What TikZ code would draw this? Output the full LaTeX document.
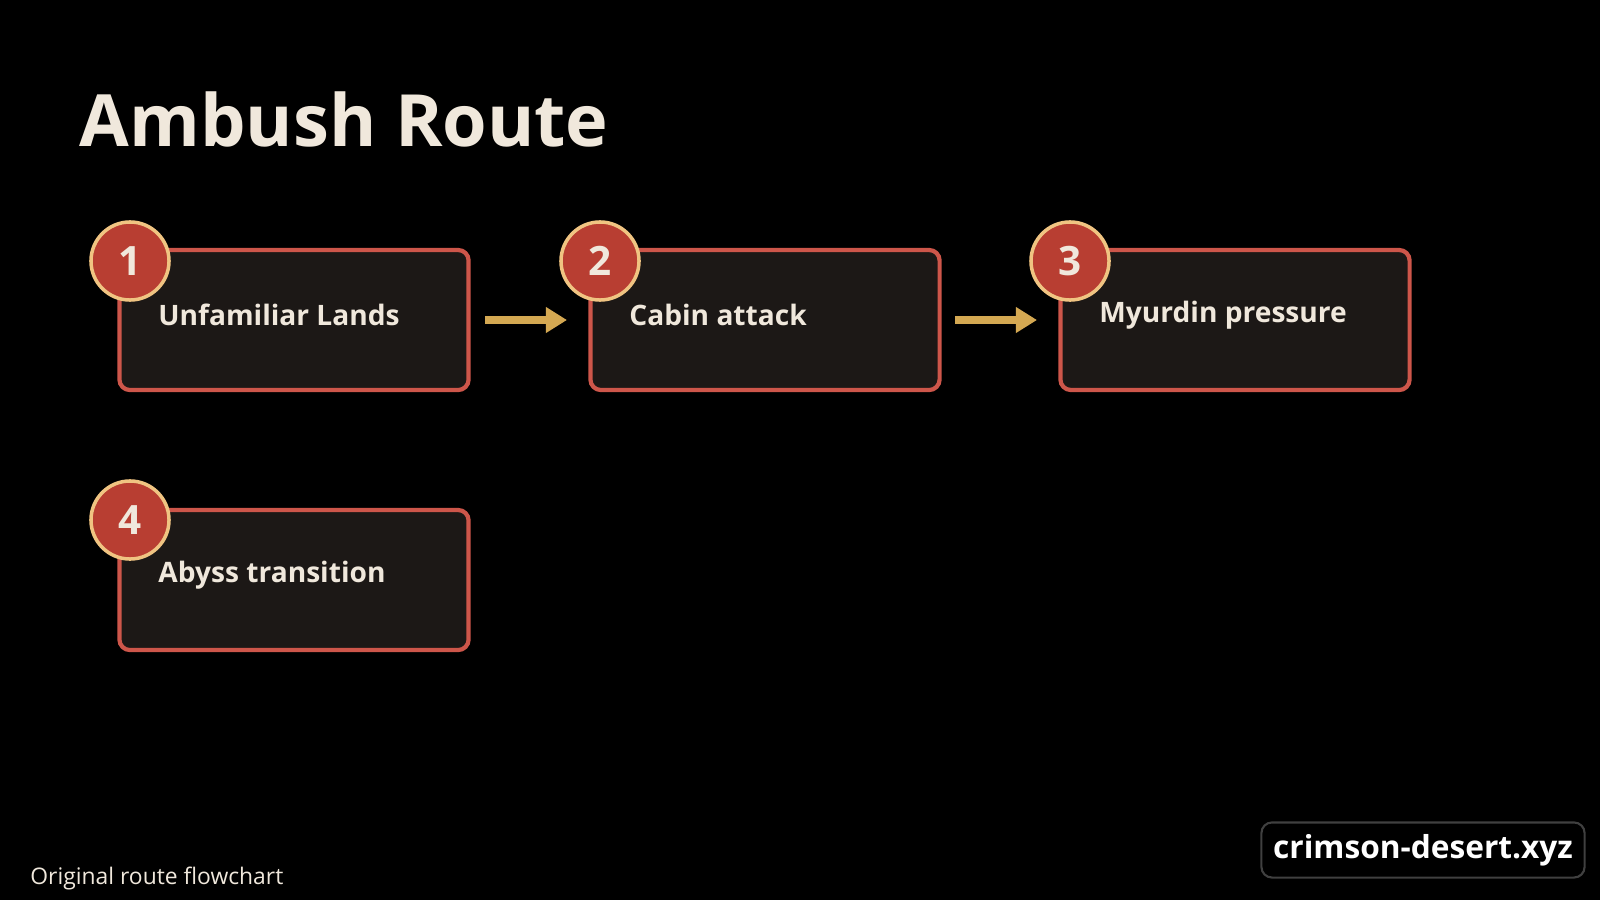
\documentclass[tikz,border=0pt]{standalone}
\usepackage{fontspec}
\setmainfont{Open Sans}
\usetikzlibrary{positioning, calc, arrows.meta}
\definecolor{boxfill}{RGB}{28,24,22}
\definecolor{boxline}{RGB}{205,86,74}
\definecolor{badge}{RGB}{184,62,50}
\definecolor{badgeline}{RGB}{240,196,130}
\definecolor{arrowc}{RGB}{212,168,82}
\definecolor{textc}{RGB}{240,232,220}

\begin{document}
\begin{tikzpicture}[x=0.01cm, y=-0.01cm,
    routebox/.style={rectangle, rounded corners=3pt, draw=boxline, line width=1.2pt, fill=boxfill, minimum width=3.49cm, minimum height=1.40cm},
    routelabel/.style={text=textc, font=\fontsize{8}{10}\selectfont\bfseries, anchor=west},
    num/.style={circle, draw=badgeline, line width=1pt, fill=badge, minimum size=0.78cm, inner sep=0pt, text=textc, font=\fontsize{11.5}{12}\selectfont\bfseries},
    flow/.style={arrowc, line width=2pt, -{Triangle[length=6pt, width=7pt]}}
]
\fill[black] (0,0) rectangle (1600,900);
\useasboundingbox (0,0) rectangle (1600,900);

% title
\node[anchor=west, text=textc, font=\fontsize{20.5}{24}\selectfont\bfseries, inner sep=0pt] (title) at (79,119) {Ambush Route};

% steps
\node[routebox] (s1) at (294,320) {};
\node[routebox] (s2) at (765,320) {};
\node[routebox] (s3) at (1235,320) {};
\node[routebox] (s4) at (294,580) {};

\node[routelabel] (t1) at (146,315) {Unfamiliar Lands};
\node[routelabel] (t2) at (617,315) {Cabin attack};
\node[routelabel] (t3) at (1087,315) {Myurdin pressure};
\node[routelabel] (t4) at (146,575) {Abyss transition};

% badges
\node[num] (n1) at (130,261) {1};
\node[num] (n2) at (600,261) {2};
\node[num] (n3) at (1070,261) {3};
\node[num] (n4) at (130,520) {4};

% connectors
\coordinate (a1) at (485,320);
\coordinate (b1) at (567,320);
\coordinate (a2) at (955,320);
\coordinate (b2) at (1037,320);
\draw[flow] (a1) -- (b1);
\draw[flow] (a2) -- (b2);

% footer
\node[anchor=west, text=textc, font=\fontsize{6.5}{8}\selectfont] (foot) at (18,878) {Original route flowchart};
\node[rectangle, rounded corners=3pt, draw=white!25!black, line width=0.6pt, minimum width=2.98cm, minimum height=0.52cm, text=white, font=\fontsize{9}{11}\selectfont\bfseries] (site) at (1423,850) {crimson-desert.xyz};
\end{tikzpicture}
\end{document}
